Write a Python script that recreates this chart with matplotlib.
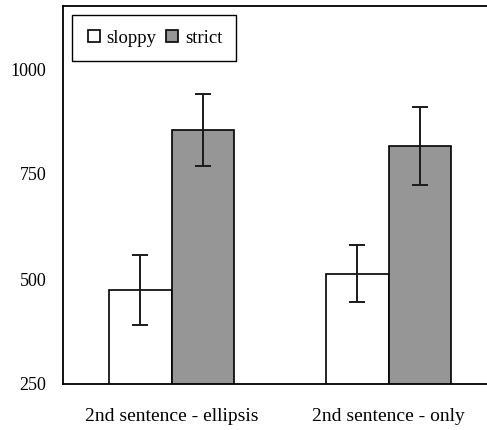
import matplotlib
matplotlib.use('Agg')
import matplotlib.pyplot as plt
from matplotlib.lines import Line2D
import numpy as np

# values
groups = ['2nd sentence - ellipsis', '2nd sentence - only']
conditions = ['sloppy', 'strict']
sloppy = [474, 513]
sloppy_err = [84, 68]
strict = [855, 817]
strict_err = [86, 93]
yticks = [250, 500, 750, 1000]
fills = ['white', '#969696']

plt.rcParams['font.family'] = ['Liberation Serif', 'DejaVu Serif']

fig = plt.figure(figsize=(4.87, 4.30), dpi=100)
ax = fig.add_axes([63 / 487, 1 - 384 / 430, 434 / 487, 378 / 430])

x = np.arange(len(groups))
w = 0.286
err_kw = dict(ecolor='#1a1a1a', elinewidth=1.4, capsize=5.5, capthick=1.4)
ax.bar(x - w / 2, sloppy, w, yerr=sloppy_err, color=fills[0],
       edgecolor='black', linewidth=1.2, error_kw=err_kw, zorder=2)
ax.bar(x + w / 2, strict, w, yerr=strict_err, color=fills[1],
       edgecolor='black', linewidth=1.2, error_kw=err_kw, zorder=2)

ax.set_xlim(-0.5, 1.5)
ax.set_ylim(250, 1150)
ax.set_yticks(yticks)
ax.set_yticklabels([str(t) for t in yticks])
ax.set_xticks(x)
ax.set_xticklabels(groups)
ax.tick_params(axis='both', length=0)
ax.tick_params(axis='y', pad=12, labelsize=13)
ax.tick_params(axis='x', pad=17, labelsize=14)
for s in ['left', 'top', 'bottom']:
    ax.spines[s].set_linewidth(1.3)
ax.spines['right'].set_visible(False)

handles = [Line2D([], [], marker='s', markersize=8.5, markerfacecolor=f,
                  markeredgecolor='black', markeredgewidth=1.2,
                  linestyle='none') for f in fills]
leg = ax.legend(handles, conditions, loc='upper left',
                bbox_to_anchor=(72 / 487, 1 - 15 / 430),
                bbox_transform=fig.transFigure, ncol=2, fancybox=False,
                edgecolor='black', framealpha=1, fontsize=13.5,
                handlelength=0.8, handleheight=0.9, handletextpad=0.3,
                columnspacing=0.4, borderpad=0.75, borderaxespad=0)
leg.get_frame().set_linewidth(1.0)

fig.savefig('out.png', dpi=100)
